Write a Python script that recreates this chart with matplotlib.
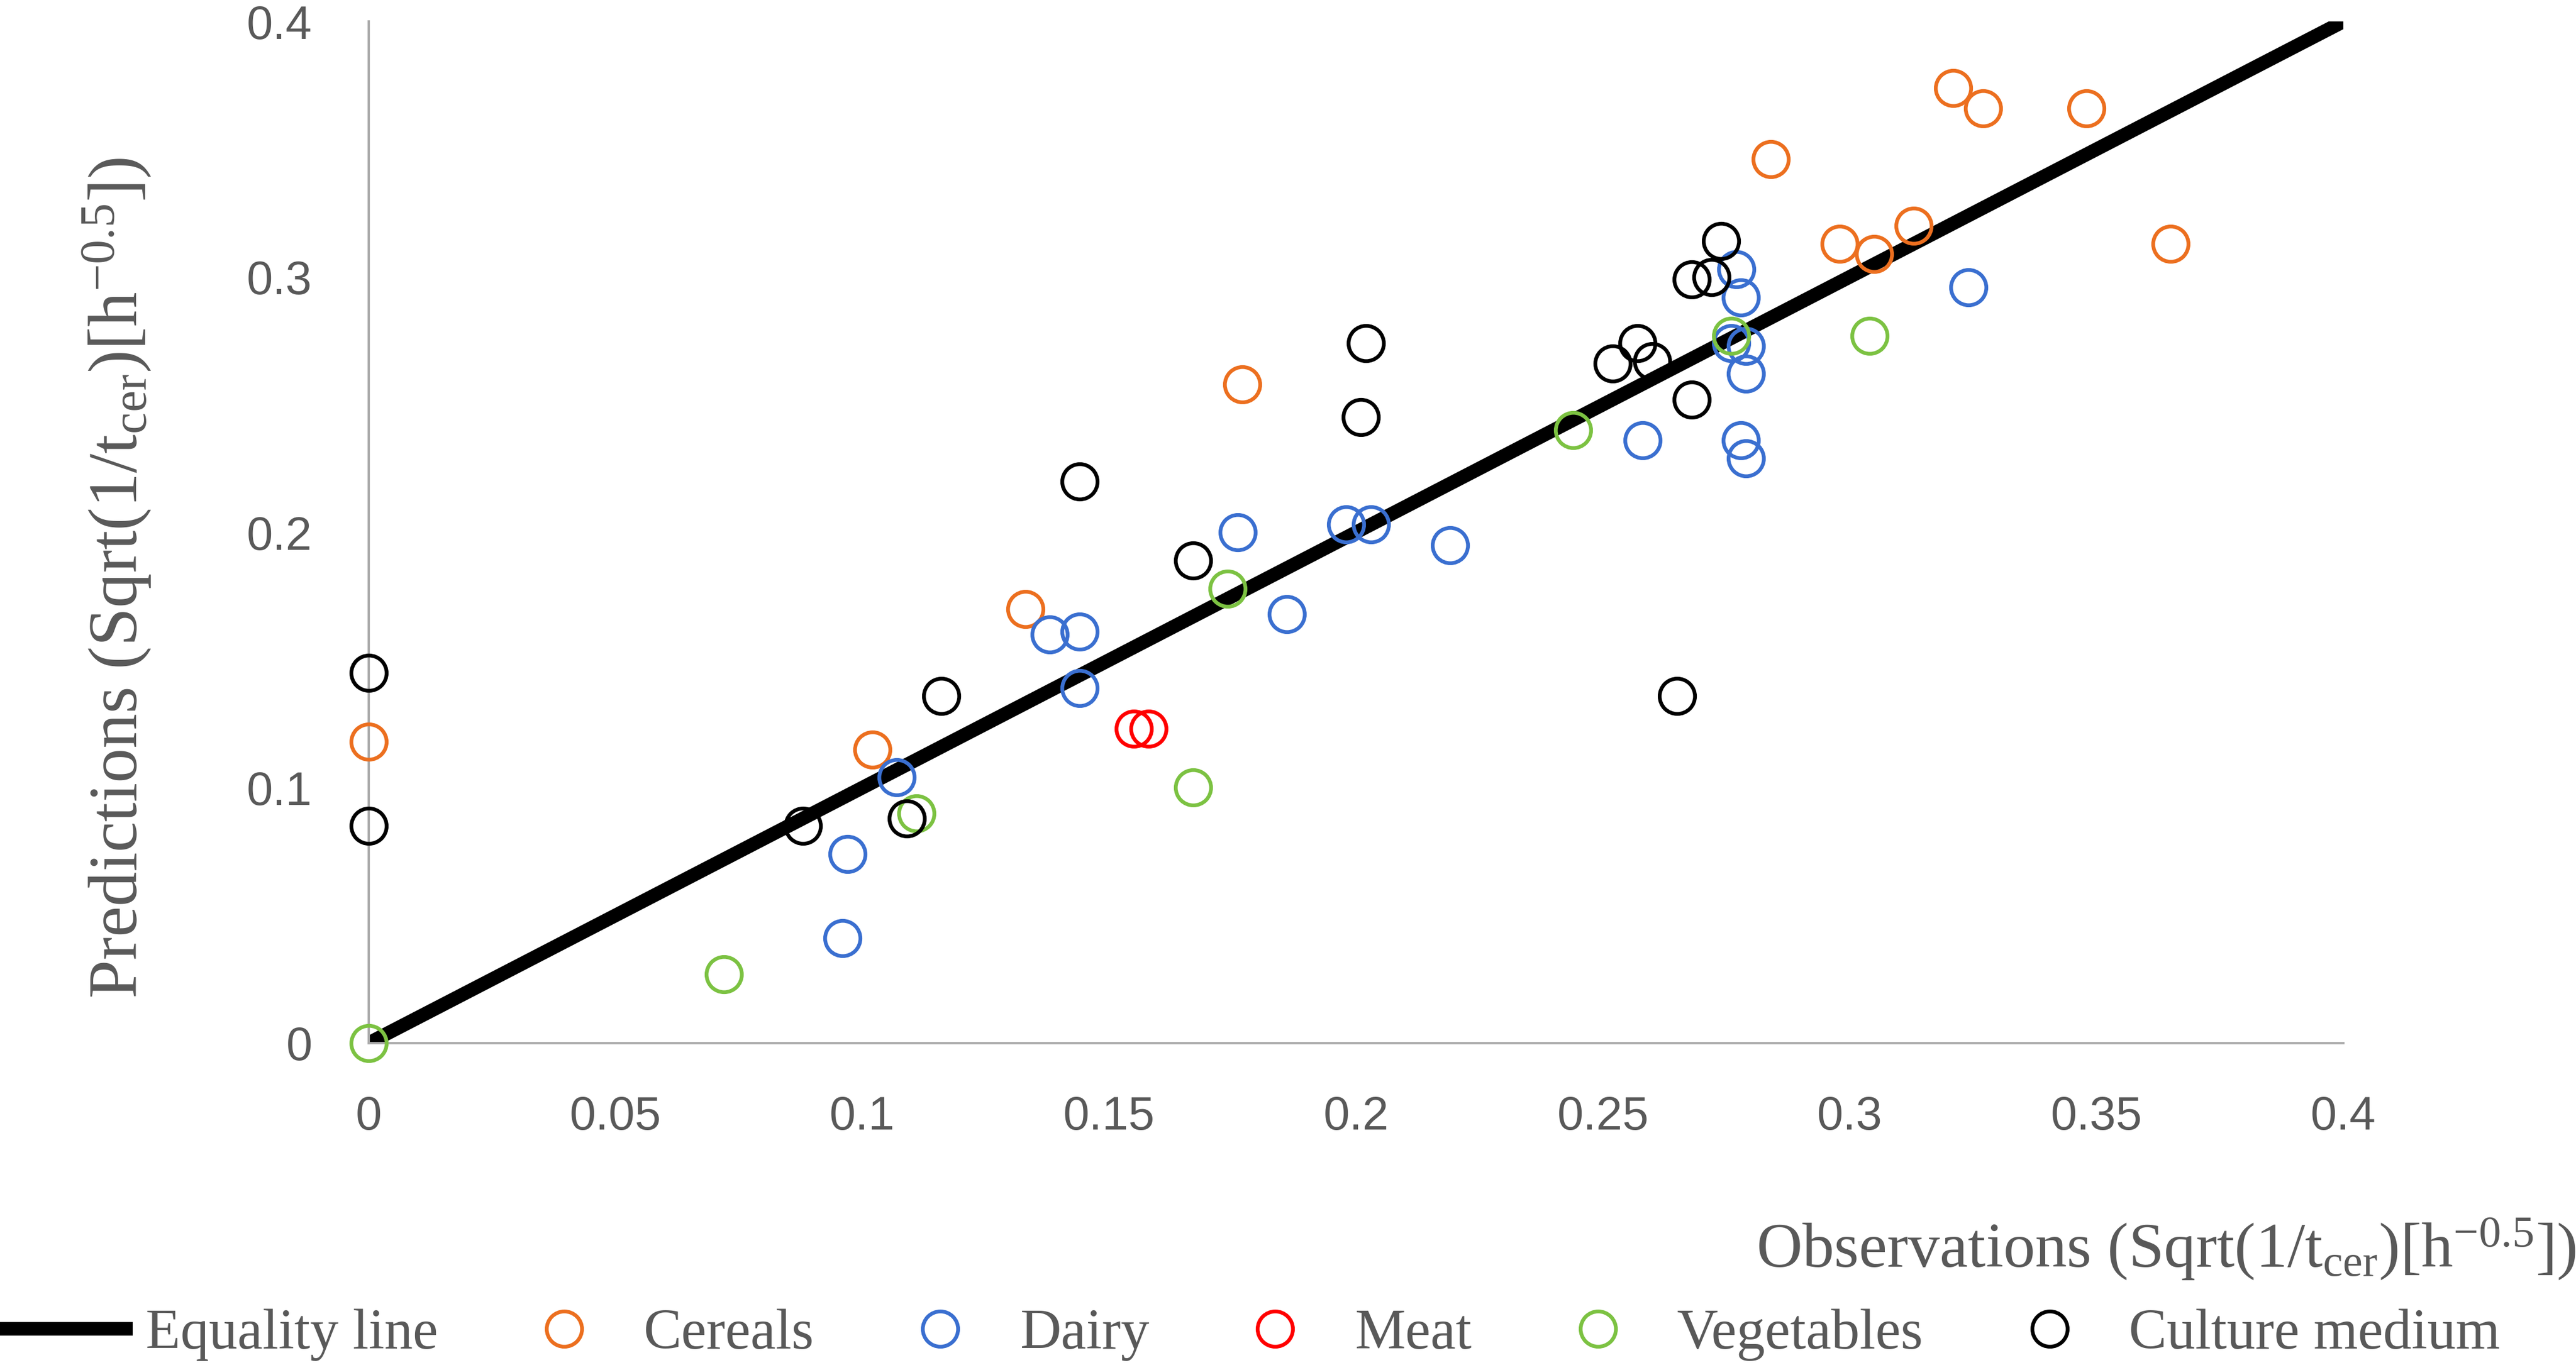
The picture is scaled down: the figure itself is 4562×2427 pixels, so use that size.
import matplotlib
matplotlib.use("Agg")
import matplotlib.pyplot as plt
from matplotlib.ticker import FuncFormatter

cereals_obs = [0.0, 0.102, 0.133, 0.177, 0.284, 0.298, 0.305, 0.313, 0.321, 0.327, 0.348, 0.365]
cereals_pred = [0.118, 0.115, 0.170, 0.258, 0.346, 0.313, 0.309, 0.320, 0.374, 0.366, 0.366, 0.313]

dairy_obs = [0.096, 0.097, 0.107, 0.138, 0.144, 0.144, 0.176, 0.186, 0.198, 0.203, 0.219,
             0.258, 0.277, 0.278, 0.276, 0.279, 0.279, 0.278, 0.279, 0.324]
dairy_pred = [0.041, 0.074, 0.104, 0.160, 0.161, 0.139, 0.200, 0.168, 0.203, 0.203, 0.195,
              0.236, 0.303, 0.292, 0.274, 0.273, 0.262, 0.236, 0.229, 0.296]

meat_obs = [0.155, 0.158]
meat_pred = [0.123, 0.123]

veg_obs = [0.0, 0.072, 0.111, 0.167, 0.174, 0.244, 0.276, 0.304]
veg_pred = [0.0, 0.027, 0.090, 0.100, 0.178, 0.240, 0.277, 0.277]

culture_obs = [0.0, 0.0, 0.088, 0.109, 0.116, 0.144, 0.167, 0.201, 0.202, 0.252, 0.257,
               0.260, 0.265, 0.268, 0.268, 0.272, 0.274]
culture_pred = [0.145, 0.085, 0.085, 0.088, 0.136, 0.220, 0.189, 0.245, 0.274, 0.266, 0.274,
                0.267, 0.136, 0.252, 0.299, 0.300, 0.314]

equality_x = [0.0, 0.4]
equality_y = [0.0, 0.4]

x_ticks = [0, 0.05, 0.1, 0.15, 0.2, 0.25, 0.3, 0.35, 0.4]
y_ticks = [0, 0.1, 0.2, 0.3, 0.4]

series = [
    ("Cereals", cereals_obs, cereals_pred, "#EC6F1F"),
    ("Dairy", dairy_obs, dairy_pred, "#3A6FD0"),
    ("Meat", meat_obs, meat_pred, "#FF0000"),
    ("Vegetables", veg_obs, veg_pred, "#7CC242"),
    ("Culture medium", culture_obs, culture_pred, "#000000"),
]

plt.rcParams["mathtext.fontset"] = "custom"
plt.rcParams["mathtext.rm"] = "Liberation Serif"
plt.rcParams["mathtext.it"] = "Liberation Serif:italic"

text_grey = "#595959"
axis_grey = "#ABABAB"

fig = plt.figure(figsize=(4562 / 300, 2427 / 300), dpi=300)
ax = fig.add_axes([0.1431, 0.2386, 0.9097 - 0.1431, 0.9843 - 0.2386])

ax.plot(equality_x, equality_y, color="black", linewidth=5.8, solid_capstyle="butt",
        label="Equality line", zorder=2)

for name, xs, ys, col in series:
    ax.plot(xs, ys, linestyle="none", marker="o", markersize=15, markerfacecolor="none",
            markeredgecolor=col, markeredgewidth=1.6, label=name, clip_on=False, zorder=3)

ax.set_xlim(0, 0.4)
ax.set_ylim(0, 0.4)
ax.set_xticks(x_ticks)
ax.set_yticks(y_ticks)
fmt = FuncFormatter(lambda v, p: "%g" % round(v, 3))
ax.xaxis.set_major_formatter(fmt)
ax.yaxis.set_major_formatter(fmt)
ax.tick_params(length=0, labelsize=20, labelcolor=text_grey)
ax.tick_params(axis="x", pad=22)
ax.tick_params(axis="y", pad=24)
for lab in ax.get_xticklabels() + ax.get_yticklabels():
    lab.set_fontfamily("Liberation Sans")

for side in ["top", "right"]:
    ax.spines[side].set_visible(False)
for side in ["left", "bottom"]:
    ax.spines[side].set_color(axis_grey)
    ax.spines[side].set_linewidth(1.0)

fig.text(1.0, 0.075, r"Observations (Sqrt(1/t$_{\mathrm{cer}}$)[h$^{\mathrm{-0.5}}$])",
         ha="right", va="baseline", fontsize=27, family="Liberation Serif", color=text_grey)
fig.text(0.053, 0.578, r"Predictions (Sqrt(1/t$_{\mathrm{cer}}$)[h$^{\mathrm{-0.5}}$])",
         ha="center", va="baseline", rotation=90, rotation_mode="anchor",
         fontsize=29.5, family="Liberation Serif", color=text_grey)

leg = fig.legend(loc="center left", bbox_to_anchor=(0.0, 0.0255), ncol=6, frameon=False,
                 borderpad=0, borderaxespad=0, handlelength=2.33, handletextpad=0.23,
                 columnspacing=1.05, prop={"family": "Liberation Serif", "size": 24.2})
for t in leg.get_texts():
    t.set_color(text_grey)

fig.savefig("out.png", dpi=300)
